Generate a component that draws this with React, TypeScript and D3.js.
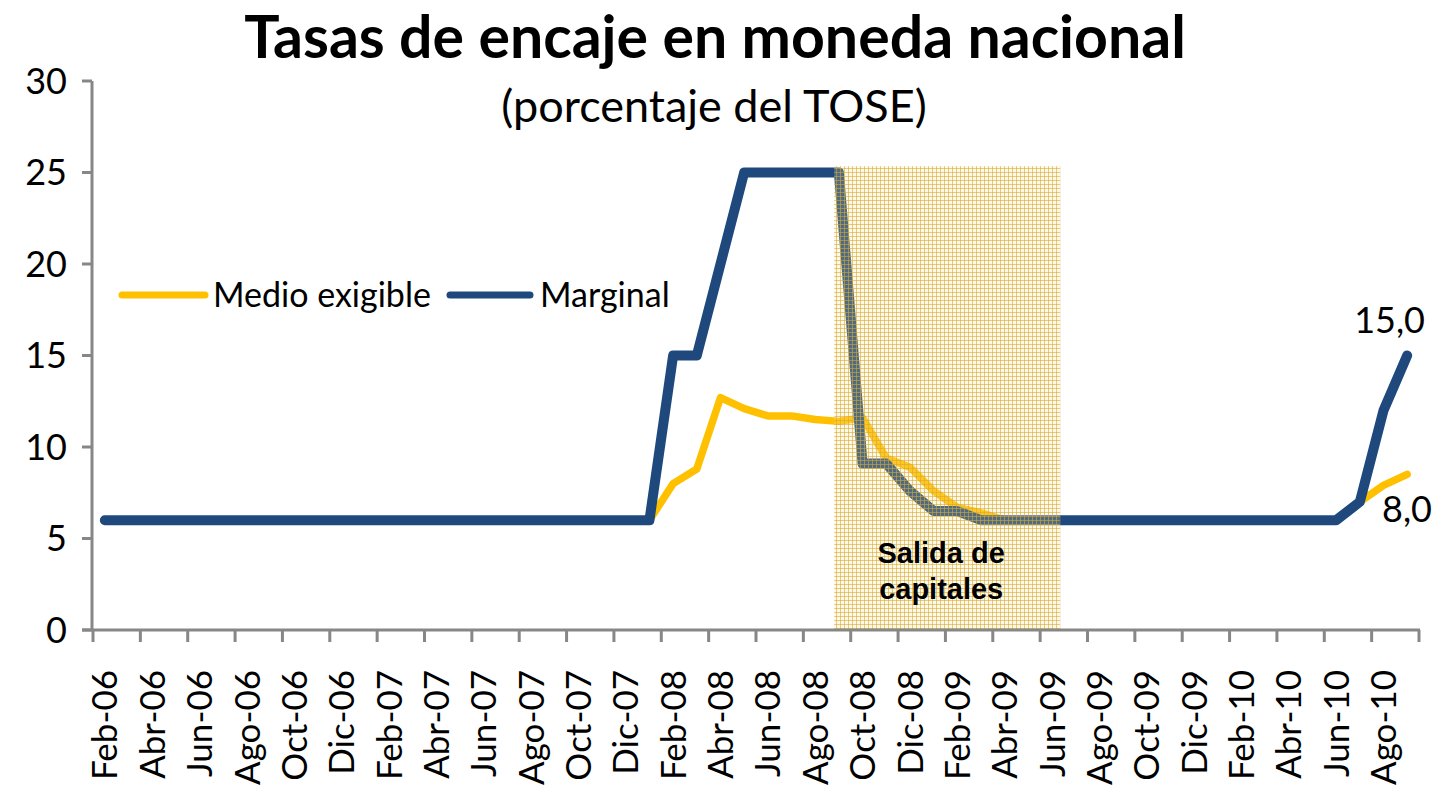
import React from "react";
import * as d3 from "d3";

const months: string[] = [
  "Feb-06","Mar-06","Abr-06","May-06","Jun-06","Jul-06","Ago-06","Set-06","Oct-06","Nov-06","Dic-06",
  "Ene-07","Feb-07","Mar-07","Abr-07","May-07","Jun-07","Jul-07","Ago-07","Set-07","Oct-07","Nov-07","Dic-07",
  "Ene-08","Feb-08","Mar-08","Abr-08","May-08","Jun-08","Jul-08","Ago-08","Set-08","Oct-08","Nov-08","Dic-08",
  "Ene-09","Feb-09","Mar-09","Abr-09","May-09","Jun-09","Jul-09","Ago-09","Set-09","Oct-09","Nov-09","Dic-09",
  "Ene-10","Feb-10","Mar-10","Abr-10","May-10","Jun-10","Jul-10","Ago-10","Set-10",
];

const medioExigible: number[] = [
  6, 6, 6, 6, 6, 6, 6, 6, 6, 6, 6,
  6, 6, 6, 6, 6, 6, 6, 6, 6, 6, 6, 6,
  6, 8.0, 8.8, 12.7, 12.1, 11.7, 11.7, 11.5, 11.4, 11.6, 9.4, 8.9,
  7.6, 6.7, 6.4, 6.0, 6, 6, 6, 6, 6, 6, 6, 6,
  6, 6, 6, 6, 6, 6, 7.0, 7.9, 8.5,
];

const marginal: number[] = [
  6, 6, 6, 6, 6, 6, 6, 6, 6, 6, 6,
  6, 6, 6, 6, 6, 6, 6, 6, 6, 6, 6, 6,
  6, 15, 15, 20, 25, 25, 25, 25, 25, 9.1, 9.1, 7.6,
  6.5, 6.5, 6.0, 6.0, 6, 6, 6, 6, 6, 6, 6, 6,
  6, 6, 6, 6, 6, 6, 7.0, 12.0, 15.0,
];

const yTicks: number[] = [0, 5, 10, 15, 20, 25, 30];
const seriesNames: string[] = ["Medio exigible", "Marginal"];
const endLabels: string[] = ["8,0", "15,0"];
const shadeFrom = 30.8; // month index
const shadeTo = 40.35;
const shadeTop = 25.35;

const W = 1435;
const H = 790;
const FONT = "Lato, 'Open Sans', sans-serif";
const BLUE = "#1F497D";
const YELLOW = "#FFC000";
const AXIS = "#878787";

export default function App() {
  const left = 93, right = 1419, top = 81, bottom = 630;
  const x = d3.scaleBand<string>().domain(months).range([left, right]).padding(0);
  const bw = x.bandwidth();
  const xc = (m: string) => (x(m) as number) + bw / 2;
  const xi = d3.scaleLinear().domain([-0.5, months.length - 0.5]).range([left, right]);
  const y = d3.scaleLinear().domain([0, 30]).range([bottom, top]);

  const line = d3
    .line<number>()
    .x((_, i) => xc(months[i]))
    .y((d) => y(d));

  const tickIdx = d3.range(0, months.length + 1, 2);
  const labelMonths = months.filter((_, i) => i % 2 === 0);
  const legendY = y(18.3);
  const shadeCx = (xi(shadeFrom) + xi(shadeTo)) / 2 - 6;

  return (
    <div style={{ position: "absolute", left: 0, top: 0 }}>
      <svg width={W} height={H} style={{ display: "block", background: "#fff" }}>
        <defs>
          <pattern id="plaid" width="4" height="4" patternUnits="userSpaceOnUse">
            <rect width="4" height="4" fill="#F7E2A0" fillOpacity="0.22" />
            <rect x="0" y="0" width="1" height="4" fill="#D9A82A" fillOpacity="0.58" />
            <rect x="0" y="0" width="4" height="1" fill="#D9A82A" fillOpacity="0.58" />
          </pattern>
        </defs>

        {/* Title */}
        <text x={715} y={58} textAnchor="middle" fontFamily={FONT} fontWeight="bold" fontSize={59} fill="#000">
          Tasas de encaje en moneda nacional
        </text>
        <text x={714} y={122} textAnchor="middle" fontFamily={FONT} fontSize={45} fill="#000">
          (porcentaje del TOSE)
        </text>

        {/* Lines */}
        <path d={line(medioExigible) || ""} fill="none" stroke={YELLOW} strokeWidth={7.5} strokeLinejoin="round" strokeLinecap="round" />
        <path d={line(marginal) || ""} fill="none" stroke={BLUE} strokeWidth={10} strokeLinejoin="round" strokeLinecap="round" />

        {/* Shaded region */}
        <rect
          x={xi(shadeFrom)}
          y={y(shadeTop)}
          width={xi(shadeTo) - xi(shadeFrom)}
          height={y(0) - y(shadeTop)}
          fill="url(#plaid)"
        />
        <text textAnchor="middle" fontFamily="'Liberation Sans', Arial, sans-serif" fontWeight="bold" fontSize={29} fill="#000">
          <tspan x={shadeCx} y={563}>Salida de</tspan>
          <tspan x={shadeCx} y={599}>capitales</tspan>
        </text>

        {/* Axes */}
        <line x1={left - 1} x2={left - 1} y1={top} y2={bottom} stroke={AXIS} strokeWidth={3} />
        {yTicks.map((t) => (
          <g key={t}>
            <line x1={left - 11} x2={left - 1} y1={y(t)} y2={y(t)} stroke={AXIS} strokeWidth={3} />
            <text x={left - 26} y={y(t)} dy="0.36em" textAnchor="end" fontFamily={FONT} fontSize={36} fill="#000">
              {t}
            </text>
          </g>
        ))}
        <line x1={left - 11} x2={right + 1} y1={bottom} y2={bottom} stroke={AXIS} strokeWidth={3} />
        {tickIdx.map((i) => (
          <line key={i} x1={xi(i - 0.5)} x2={xi(i - 0.5)} y1={bottom} y2={bottom + 12} stroke={AXIS} strokeWidth={3} />
        ))}
        {labelMonths.map((m) => (
          <text
            key={m}
            transform={`translate(${xc(m)},${670}) rotate(-90)`}
            dy="0.36em"
            textAnchor="end"
            fontFamily={FONT}
            fontSize={35}
            fill="#000"
          >
            {m}
          </text>
        ))}

        {/* End labels */}
        <text x={1425} y={333} textAnchor="end" fontFamily={FONT} fontSize={36} fill="#000">
          {endLabels[1]}
        </text>
        <text x={1432} y={522} textAnchor="end" fontFamily={FONT} fontSize={36} fill="#000">
          {endLabels[0]}
        </text>

        {/* Legend */}
        <line x1={122} x2={205} y1={legendY} y2={legendY} stroke={YELLOW} strokeWidth={7} strokeLinecap="round" />
        <text x={213} y={legendY} dy="0.36em" fontFamily={FONT} fontSize={34} fill="#000">
          {seriesNames[0]}
        </text>
        <line x1={450} x2={530} y1={legendY} y2={legendY} stroke={BLUE} strokeWidth={7} strokeLinecap="round" />
        <text x={540} y={legendY} dy="0.36em" fontFamily={FONT} fontSize={34} fill="#000">
          {seriesNames[1]}
        </text>
      </svg>
    </div>
  );
}
